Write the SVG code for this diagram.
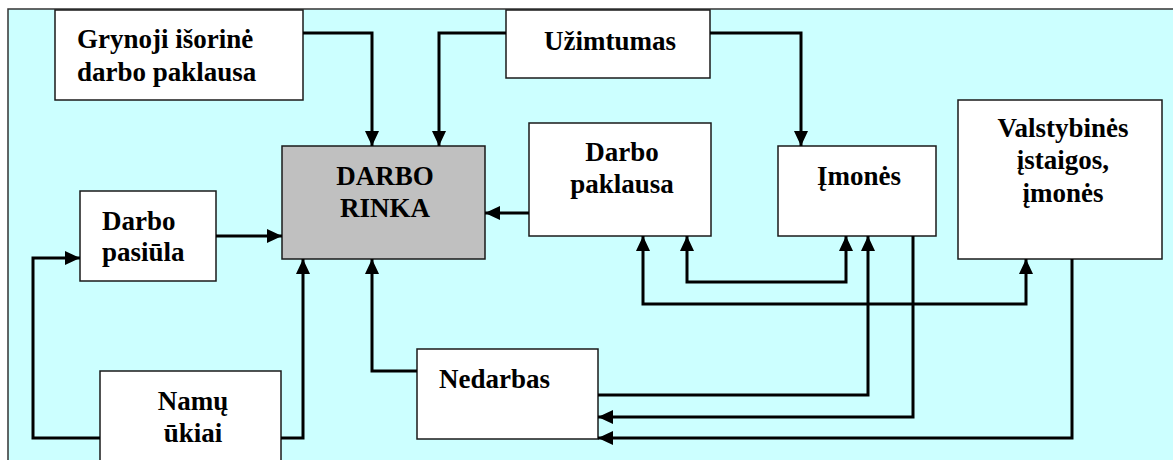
<svg xmlns="http://www.w3.org/2000/svg" width="1173" height="460" viewBox="0 0 1173 460">
  <defs>
    <marker id="arrow" markerUnits="userSpaceOnUse" markerWidth="15" markerHeight="14" refX="15" refY="7" orient="auto">
      <path d="M0,0 L15,7 L0,14 z" fill="#000"/>
    </marker>
    <marker id="arrow-start" markerUnits="userSpaceOnUse" markerWidth="15" markerHeight="14" refX="0" refY="7" orient="auto">
      <path d="M15,0 L0,7 L15,14 z" fill="#000"/>
    </marker>
  </defs>
  <style>
    .box { fill: #ffffff; stroke: #1a1a1a; stroke-width: 1.5; }
    .core { fill: #c0c0c0; stroke: #1a1a1a; stroke-width: 1.5; }
    .label { font-family: "Liberation Serif", "Times New Roman", serif; font-weight: bold; font-size: 27px; fill: #000; }
    .mid { text-anchor: middle; }
    .wire { fill: none; stroke: #000; stroke-width: 3; stroke-linejoin: miter; }
    .to { marker-end: url(#arrow); }
    .both { marker-start: url(#arrow-start); marker-end: url(#arrow); }
  </style>

  <!-- panel background -->
  <rect x="8" y="9" width="1180" height="470" fill="#ccffff" stroke="#333" stroke-width="1.5"/>

  <g id="grynoji">
    <rect class="box" x="55" y="10" width="248" height="90"/>
    <text class="label" x="77" y="48">Grynoji išorinė</text>
    <text class="label" x="77" y="81">darbo paklausa</text>
  </g>

  <g id="uzimtumas">
    <rect class="box" x="506" y="10" width="204" height="68"/>
    <text class="label" x="544" y="50">Užimtumas</text>
  </g>

  <g id="darbo-rinka">
    <rect class="core" x="282" y="146" width="203" height="113"/>
    <text class="label mid" x="385" y="185">DARBO</text>
    <text class="label mid" x="385" y="217">RINKA</text>
  </g>

  <g id="darbo-pasiula">
    <rect class="box" x="80" y="191" width="136" height="90"/>
    <text class="label" x="102" y="230">Darbo</text>
    <text class="label" x="102" y="261">pasiūla</text>
  </g>

  <g id="darbo-paklausa">
    <rect class="box" x="529" y="123" width="182" height="113"/>
    <text class="label mid" x="622" y="161">Darbo</text>
    <text class="label mid" x="622" y="193">paklausa</text>
  </g>

  <g id="imones">
    <rect class="box" x="778" y="146" width="158" height="90"/>
    <text class="label mid" x="859" y="185">Įmonės</text>
  </g>

  <g id="valstybines">
    <rect class="box" x="958" y="100" width="204" height="159"/>
    <text class="label mid" x="1063" y="137">Valstybinės</text>
    <text class="label mid" x="1063" y="169">įstaigos,</text>
    <text class="label mid" x="1063" y="202">įmonės</text>
  </g>

  <g id="namu-ukiai">
    <rect class="box" x="100" y="371" width="181" height="110"/>
    <text class="label mid" x="193" y="410">Namų</text>
    <text class="label mid" x="193" y="442">ūkiai</text>
  </g>

  <g id="nedarbas">
    <rect class="box" x="417" y="349" width="181" height="90"/>
    <text class="label" x="439" y="388">Nedarbas</text>
  </g>

  <g id="connectors">
    <path class="wire to" d="M303,33 H372 V146"/>
    <path class="wire to" d="M506,33 H439 V146"/>
    <path class="wire to" d="M710,33 H801 V146"/>
    <path class="wire to" d="M529,213 H485"/>
    <path class="wire to" d="M216,236 H282"/>
    <path class="wire to" d="M100,438 H33 V258 H80"/>
    <path class="wire to" d="M281,438 H303 V259"/>
    <path class="wire to" d="M417,371 H372 V259"/>
    <path class="wire both" d="M687,236 V282 H846 V236"/>
    <path class="wire both" d="M643,236 V304 H1026 V259"/>
    <path class="wire to" d="M598,395 H868 V236"/>
    <path class="wire to" d="M913,236 V417 H598"/>
    <path class="wire to" d="M1072,259 V438 H598"/>
  </g>
</svg>
